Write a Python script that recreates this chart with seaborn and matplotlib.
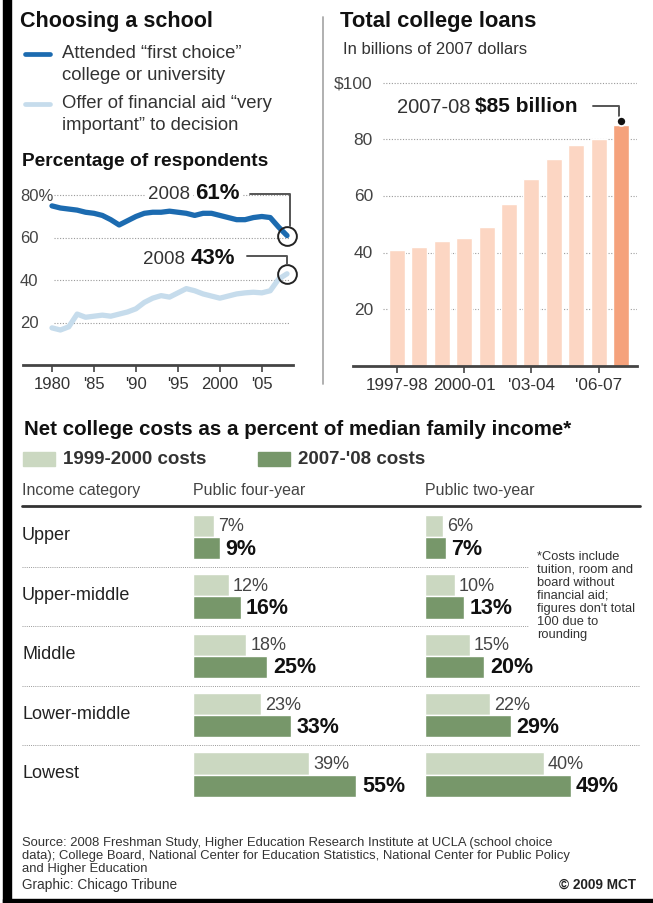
import numpy as np
import pandas as pd
import matplotlib
matplotlib.use('Agg')
import matplotlib.pyplot as plt
import seaborn as sns

W, H = 653, 904

years = list(range(1980, 2009))
first_choice = [75, 74, 73.5, 73, 72, 71.5, 70.5, 68.5, 66, 68, 70, 71.5, 72, 72, 72.5,
                72, 71.5, 70.5, 71.5, 71.5, 70.5, 69.5, 68.5, 68.5, 69.5, 70, 69.5, 65, 61]
aid_important = [17.5, 16.5, 18, 24, 22.5, 23, 23.5, 23, 24, 25, 26.5, 29.5, 31.5, 32.7, 32,
                 34, 36, 35, 33.5, 32.5, 31.5, 32.5, 33.5, 34, 34.3, 34, 35, 40.5, 43]
line_ticks = [1980, 1985, 1990, 1995, 2000, 2005]
line_tick_labels = ['1980', "'85", "'90", "'95", '2000', "'05"]
line_grid = [20, 40, 60, 80]
line_grid_labels = ['20', '40', '60', '80%']

loan_years = ['1997-98', '1998-99', '1999-00', '2000-01', '2001-02', '2002-03',
              '2003-04', '2004-05', '2005-06', '2006-07', '2007-08']
loans = [41, 42, 44, 45, 49, 57, 66, 73, 78, 80, 85]
loan_ticks = [0, 3, 6, 9]
loan_tick_labels = ['1997-98', '2000-01', "'03-04", "'06-07"]
loan_grid = [20, 40, 60, 80, 100]
loan_grid_labels = ['20', '40', '60', '80', '$100']

income = ['Upper', 'Upper-middle', 'Middle', 'Lower-middle', 'Lowest']
periods = ['1999-2000 costs', "2007-'08 costs"]
four_1999 = [7, 12, 18, 23, 39]
four_2007 = [9, 16, 25, 33, 55]
two_1999 = [6, 10, 15, 22, 40]
two_2007 = [7, 13, 20, 29, 49]

BLUE, LBLUE = '#1c6bb0', '#c6dcec'
PEACH, LPEACH = '#f5a27c', '#fcd6c3'
DGREEN, LGREEN = '#77976a', '#cbd8c1'
GRID = '#9a9a9a'
REG = ['Liberation Sans', 'DejaVu Sans']
BOLD = ['Liberation Sans', 'DejaVu Sans']

sns.set_theme(style='white')
plt.rcParams['font.family'] = REG

fig = plt.figure(figsize=(W / 100, H / 100), dpi=100)
fig.patch.set_facecolor('white')

bg = fig.add_axes([0, 0, 1, 1])
bg.set_xlim(0, W)
bg.set_ylim(H, 0)
bg.axis('off')


def add_ax(x0, y0, x1, y1):
  ax = fig.add_axes([x0 / W, 1 - y1 / H, (x1 - x0) / W, (y1 - y0) / H])
  ax.set_facecolor('none')
  return ax


def txt(x, y, s, size, weight='normal', family=REG, color='#333', ha='left', va='center'):
  bg.text(x, y, s, fontsize=size, fontweight=weight, family=family, color=color, ha=ha, va=va)


# frame bits
bg.add_patch(plt.Rectangle((3, 0), 8, H, color='black'))
bg.add_patch(plt.Rectangle((3, 900), W, 4, color='black'))
bg.plot([323, 323], [18, 385], color='#aaaaaa', lw=1.3)

# ---- Choosing a school ----
txt(20, 22, 'Choosing a school', 15.5, 'bold', BOLD, '#111')
bg.plot([25, 50], [55, 55], color=BLUE, lw=3.4, solid_capstyle='round')
txt(62, 54, 'Attended “first choice”', 13.3)
txt(62, 75, 'college or university', 13.3)
bg.plot([25, 50], [105, 105], color=LBLUE, lw=3.4, solid_capstyle='round')
txt(62, 104, 'Offer of financial aid “very', 13.3)
txt(62, 126, 'important” to decision', 13.3)
txt(22, 162, 'Percentage of respondents', 13.8, 'bold', BOLD, '#111')

ax1 = add_ax(22.6, 179.3, 292.9, 366)
df_line = pd.DataFrame({'year': years * 2,
                        'pct': first_choice + aid_important,
                        'series': ['first'] * len(years) + ['aid'] * len(years)})
ax1.hlines(line_grid, 1980.2, 2008.3, colors=GRID, linestyles=(0, (1, 1.5)), lw=0.8, zorder=1)
sns.lineplot(data=df_line, x='year', y='pct', hue='series', palette={'first': BLUE, 'aid': LBLUE},
             linewidth=3.8, legend=False, ax=ax1, zorder=2)
ax1.set_xlim(1976.5, 2008.7)
ax1.set_ylim(0, 88)
ax1.set(xlabel='', ylabel='')
sns.despine(ax=ax1, left=True)
ax1.spines['bottom'].set_color('#444')
ax1.spines['bottom'].set_linewidth(2)
ax1.set_yticks([])
ax1.set_xticks(line_ticks, line_tick_labels)
ax1.tick_params(axis='x', bottom=True, length=5, width=1.2, color='#444', labelsize=12,
                labelcolor='#333', pad=3)
for v, lab in zip(line_grid, line_grid_labels):
  ax1.text(-0.01, v, lab, transform=ax1.get_yaxis_transform(), ha='left', va='center',
           fontsize=12, color='#444', bbox=dict(fc='white', ec='none', pad=0.5))

ax1.plot([years[-1]] * 2, [first_choice[-1], aid_important[-1]], 'o', ms=13.5, mfc='none',
         mec='#222', mew=1.4, clip_on=False, zorder=3)
ax1.plot([2003.6, 2008.3, 2008.3], [80.6, 80.6, 65.5], color='#555', lw=1.4, zorder=3)
ax1.plot([2003.2, 2008.0, 2008.0], [51.4, 51.4, 47.6], color='#555', lw=1.4, zorder=3)
ax1.text(1996.5, 80.6, '2008', ha='right', va='center', fontsize=13.5, color='#333',
         bbox=dict(fc='white', ec='none', pad=1.5), zorder=4)
ax1.text(1997.1, 81.2, f'{first_choice[-1]}%', ha='left', va='center', fontsize=16,
         fontweight='bold', family=BOLD, color='#111',
         bbox=dict(fc='white', ec='none', pad=1.5), zorder=4)
ax1.text(1995.9, 50.2, '2008', ha='right', va='center', fontsize=13.5, color='#333', zorder=4)
ax1.text(1996.5, 50.8, f'{aid_important[-1]}%', ha='left', va='center', fontsize=16,
         fontweight='bold', family=BOLD, color='#111', zorder=4)

# ---- Total college loans ----
txt(340, 22, 'Total college loans', 15.8, 'bold', BOLD, '#111')
txt(343, 50, 'In billions of 2007 dollars', 12)

ax2 = add_ax(353, 75, 637, 367)
ax2.hlines(loan_grid, -0.62, 10.71, colors=GRID, linestyles=(0, (1, 1.5)), lw=0.8, zorder=0)
sns.barplot(x=loan_years, y=loans, hue=loan_years, palette=[LPEACH] * 10 + [PEACH],
            width=0.71, saturation=1, legend=False, ax=ax2, zorder=2)
ax2.set_xlim(-1.96, 10.71)
ax2.set_ylim(0, 103)
ax2.set(xlabel='', ylabel='')
sns.despine(ax=ax2, left=True)
ax2.spines['bottom'].set_color('#444')
ax2.spines['bottom'].set_linewidth(2)
ax2.set_yticks([])
ax2.set_xticks(loan_ticks, loan_tick_labels)
ax2.tick_params(axis='x', bottom=True, length=5, width=1.2, color='#444', labelsize=12.3,
                labelcolor='#333', pad=3)
for v, lab in zip(loan_grid, loan_grid_labels):
  ax2.text(0.07, v, lab, transform=ax2.get_yaxis_transform(), ha='right', va='center',
           fontsize=12.5, color='#444')
ax2.plot(10, loans[-1] + 1.3, 'o', ms=6.5, mfc='#111', mec='white', mew=1.2, clip_on=False, zorder=4)
ax2.plot([8.75, 9.9, 9.9], [91.8, 91.8, 88.2], color='#555', lw=1.4, zorder=3)
ax2.text(3.26, 91.4, '2007-08', ha='right', va='center', fontsize=14.5, color='#333')
ax2.text(3.48, 92.0, f'${loans[-1]} billion', ha='left', va='center', fontsize=15,
         fontweight='bold', family=BOLD, color='#111')

# ---- Net college costs ----
txt(24, 430, 'Net college costs as a percent of median family income*', 14.8, 'bold', BOLD, '#111')
bg.add_patch(plt.Rectangle((23, 453), 32, 14, color=LGREEN))
txt(63, 460, periods[0], 13.5, 'bold', REG, '#333')
bg.add_patch(plt.Rectangle((258, 453), 32, 14, color=DGREEN))
txt(298, 460, periods[1], 13.5, 'bold', REG, '#333')

FOUR_X, TWO_X, PX_PCT = 193, 425, 2.97
txt(22, 491, 'Income category', 11.5, color='#444')
txt(FOUR_X, 491, 'Public four-year', 11.5, color='#444')
txt(TWO_X, 491, 'Public two-year', 11.5, color='#444')
bg.plot([22, 640], [507, 507], color='#333', lw=2)

top, pitch = 508.3, 59.4
for i, name in enumerate(income):
  txt(22, top + (i + 0.5) * pitch - 2, name, 13, color='#222')
for i in range(len(income) - 1):
  bg.plot([22, 528 if i < 2 else 640], [top + (i + 1) * pitch] * 2, color=GRID,
          ls=(0, (1, 1.2)), lw=0.7)

note = ['*Costs include', 'tuition, room and', 'board without', 'financial aid;',
        "figures don't total", '100 due to', 'rounding']
for k, line in enumerate(note):
  txt(537, 557 + k * 13, line, 9.3, color='#333')


def cost_panel(x0, old, new):
  ax = add_ax(x0, top, x0 + 75 * PX_PCT, top + len(income) * pitch)
  df = pd.DataFrame({'income': income * 2, 'value': old + new,
                     'period': [periods[0]] * len(income) + [periods[1]] * len(income)})
  sns.barplot(data=df, y='income', x='value', hue='period', orient='h', palette=[LGREEN, DGREEN],
              width=0.75, gap=0, saturation=1, legend=False, ax=ax)
  ax.set_xlim(0, 75)
  ax.set_ylim(len(income) - 0.5, -0.5)
  ax.axis('off')
  ax.bar_label(ax.containers[0], fmt='{:.0f}%', padding=3, fontsize=13, color='#444')
  ax.bar_label(ax.containers[1], fmt='{:.0f}%', padding=4, fontsize=15.5, fontweight='bold',
               family=BOLD, color='#111')
  return ax


cost_panel(FOUR_X, four_1999, four_2007)
cost_panel(TWO_X, two_1999, two_2007)

src = ['Source: 2008 Freshman Study, Higher Education Research Institute at UCLA (school choice',
       'data); College Board, National Center for Education Statistics, National Center for Public Policy',
       'and Higher Education']
for k, line in enumerate(src):
  txt(22, 843 + k * 12.8, line, 9.4, color='#333')
txt(22, 885, 'Graphic: Chicago Tribune', 9.8, color='#333')
txt(636, 885, '© 2009 MCT', 9.8, 'bold', REG, '#222', ha='right')

fig.savefig('out.png', dpi=100)
